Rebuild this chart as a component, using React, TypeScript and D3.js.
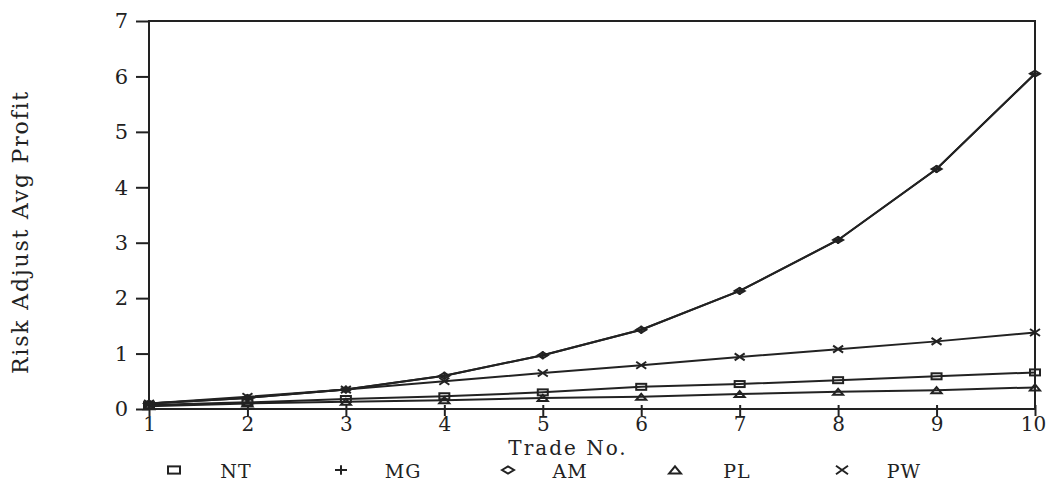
import { useRef, useEffect } from 'react';
import * as d3 from 'd3';

const trades = [1, 2, 3, 4, 5, 6, 7, 8, 9, 10];
const ntValues = [0.07, 0.12, 0.18, 0.23, 0.3, 0.4, 0.45, 0.52, 0.59, 0.66];
const mgValues = [0.1, 0.2, 0.35, 0.6, 0.97, 1.43, 2.13, 3.05, 4.33, 6.05];
const amValues = [0.1, 0.2, 0.35, 0.6, 0.97, 1.43, 2.13, 3.05, 4.33, 6.05];
const plValues = [0.05, 0.1, 0.13, 0.16, 0.2, 0.22, 0.27, 0.31, 0.34, 0.39];
const pwValues = [0.1, 0.22, 0.35, 0.5, 0.65, 0.79, 0.94, 1.08, 1.22, 1.38];
const seriesNames = ['NT', 'MG', 'AM', 'PL', 'PW'];
const yTicks = [0, 1, 2, 3, 4, 5, 6, 7];

const FONT = '"DejaVu Serif", serif';
const INK = '#222';

// small print-style markers, s = half size
const marker = (g, kind, x, y, s) => {
  if (kind === 'NT') {
    g.append('rect').attr('x', x - s).attr('y', y - s * 0.6).attr('width', 2 * s).attr('height', s * 1.2)
      .attr('fill', 'none').attr('stroke', INK).attr('stroke-width', 2);
  } else if (kind === 'MG') {
    g.append('path').attr('d', `M${x - s},${y}H${x + s}M${x},${y - s * 0.8}V${y + s * 0.8}`)
      .attr('stroke', INK).attr('stroke-width', 2);
  } else if (kind === 'AM') {
    g.append('path').attr('d', `M${x - s},${y}L${x},${y - s * 0.6}L${x + s},${y}L${x},${y + s * 0.6}Z`)
      .attr('fill', 'none').attr('stroke', INK).attr('stroke-width', 2);
  } else if (kind === 'PL') {
    g.append('path').attr('d', `M${x - s},${y + s * 0.6}L${x},${y - s * 0.6}L${x + s},${y + s * 0.6}Z`)
      .attr('fill', 'none').attr('stroke', INK).attr('stroke-width', 2);
  } else {
    g.append('path').attr('d', `M${x - s},${y - s * 0.7}L${x + s},${y + s * 0.7}M${x - s},${y + s * 0.7}L${x + s},${y - s * 0.7}`)
      .attr('stroke', INK).attr('stroke-width', 2);
  }
};

const App = () => {
  const svgRef = useRef(null);

  useEffect(() => {
    const svg = d3.select(svgRef.current);
    svg.selectAll('*').remove();
    const margin = { top: 21, right: 15, bottom: 75, left: 149 };
    const width = 1050, height = 484;

    const x = d3.scaleLinear().domain([1, 10]).range([margin.left, width - margin.right]);
    const y = d3.scaleLinear().domain([0, 7]).range([height - margin.bottom, margin.top]);

    // frame
    svg.append('path')
      .attr('d', `M${x(1)},${y(0)}V${y(7)}H${x(10)}V${y(0)}Z`)
      .attr('fill', 'none').attr('stroke', INK).attr('stroke-width', 2);

    const yAxis = svg.append('g')
      .attr('transform', `translate(${x(1)},0)`)
      .call(d3.axisLeft(y).tickValues(yTicks).tickSize(13).tickPadding(8).tickFormat(d3.format('d')));
    const xAxis = svg.append('g')
      .attr('transform', `translate(0,${y(0)})`)
      .call(d3.axisBottom(x).tickValues(trades).tickSize(7).tickPadding(1).tickFormat(d3.format('d')));
    [xAxis, yAxis].forEach(a => {
      a.select('.domain').remove();
      a.selectAll('line').attr('stroke', INK).attr('stroke-width', 2);
      a.selectAll('text').attr('font-family', FONT).attr('font-size', 21).attr('fill', INK);
    });
    xAxis.selectAll('text').attr('font-size', 20);
    xAxis.selectAll('.tick line').attr('y1', -4);
    xAxis.selectAll('.tick').filter(d => d === 10).select('text').attr('dx', -2);

    const all = [ntValues, mgValues, amValues, plValues, pwValues];
    const line = d3.line().x((d, i) => x(trades[i])).y(d => y(d));
    const plot = svg.append('g');
    all.forEach(vals => {
      plot.append('path').datum(vals).attr('d', line)
        .attr('fill', 'none').attr('stroke', INK).attr('stroke-width', 2);
    });
    all.forEach((vals, si) => {
      vals.forEach((v, i) => marker(plot, seriesNames[si], x(trades[i]), y(v), 5));
    });

    svg.append('text')
      .attr('x', 568).attr('y', 455)
      .attr('text-anchor', 'middle')
      .attr('font-family', FONT).attr('font-size', 20).attr('letter-spacing', 2).attr('fill', INK)
      .text('Trade No.');

    svg.append('text')
      .attr('transform', `translate(28,232) rotate(-90)`)
      .attr('text-anchor', 'middle')
      .attr('font-family', FONT).attr('font-size', 22).attr('letter-spacing', 1.8).attr('fill', INK)
      .text('Risk Adjust Avg Profit');

    const legend = svg.append('g');
    const legendX = d3.scalePoint().domain(seriesNames).range([174, 842]);
    seriesNames.forEach(name => {
      marker(legend, name, legendX(name), 470, 6);
      legend.append('text')
        .attr('x', legendX(name) + 62).attr('y', 478)
        .attr('text-anchor', 'middle')
        .attr('font-family', FONT).attr('font-size', 19).attr('letter-spacing', 1).attr('fill', INK)
        .text(name);
    });
  }, []);

  return (
    <svg ref={svgRef} width={1050} height={484}
      style={{ position: 'absolute', left: 0, top: 0, background: '#fff' }} />
  );
};

export default App;
